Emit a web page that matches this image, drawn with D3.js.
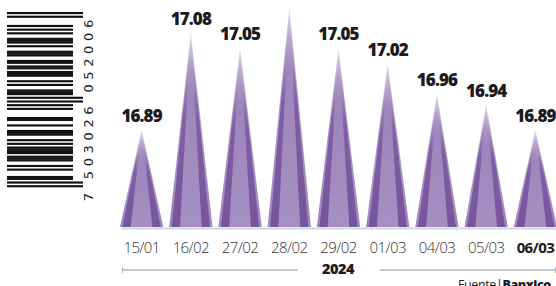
<!DOCTYPE html>
<html>
<head>
<meta charset="utf-8">
<script src="https://cdn.jsdelivr.net/npm/d3@7"></script>
<style>
  html, body { margin: 0; padding: 0; background: #fff; overflow: hidden; }
</style>
</head>
<body>
<div id="main"></div>
<script>
// data
const dates = ["15/01", "16/02", "27/02", "28/02", "29/02", "01/03", "04/03", "05/03", "06/03"];
const rates = [16.89, 17.08, 17.05, 17.13, 17.05, 17.02, 16.96, 16.94, 16.89];
const shownLabels = ["16.89", "17.08", "17.05", "", "17.05", "17.02", "16.96", "16.94", "16.89"];
const yearLabel = "2024";
const barcodeDigits = "7503026052006";

onload = () => {
    const W = 556, H = 286;
    let svg = d3.select("#main").append("svg").attr("width", W).attr("height", H);
    let defs = svg.append("defs");

    // fade to white toward the peak
    function fadeGrad(id, color) {
        let g = defs.append("linearGradient").attr("id", id)
            .attr("x1", 0).attr("y1", 0).attr("x2", 0).attr("y2", 1);
        g.append("stop").attr("offset", "0%").attr("stop-color", color).attr("stop-opacity", 0.05);
        g.append("stop").attr("offset", "45%").attr("stop-color", color).attr("stop-opacity", 0.85);
        g.append("stop").attr("offset", "100%").attr("stop-color", color).attr("stop-opacity", 1);
    }
    fadeGrad("gOuter", "#9f86bd");
    fadeGrad("gDark", "#77559d");
    fadeGrad("gLight", "#a68fc2");

    let x = d3.scaleBand().domain(dates).range([117, 560]).paddingInner(0.12).paddingOuter(0.06);
    let y = d3.scaleLinear().domain([16.70, 17.13]).range([227, 6]);

    // baseline
    svg.append("line").attr("x1", 122).attr("x2", W).attr("y1", 228.5).attr("y2", 228.5)
        .attr("stroke", "#cdd7de").attr("stroke-width", 2);

    // cones
    let cones = svg.selectAll(".cone").data(dates).enter().append("g").classed("cone", true);
    const layers = [[1, "url(#gOuter)"], [0.88, "url(#gDark)"], [0.5, "url(#gLight)"]];
    layers.forEach(([k, fill]) => {
        cones.append("path")
            .attr("fill", fill)
            .attr("d", (d, i) => {
                let cx = x(d) + x.bandwidth() / 2;
                let hw = x.bandwidth() / 2 * k;
                let top = y(rates[i]);
                return `M${cx - hw},${y(16.70)}L${cx},${top}L${cx + hw},${y(16.70)}Z`;
            });
    });

    // value labels
    svg.selectAll(".val").data(dates).enter().append("text").classed("val", true)
        .attr("x", d => x(d) + x.bandwidth() / 2)
        .attr("y", (d, i) => y(rates[i]) - 7)
        .attr("text-anchor", "middle")
        .style("font-family", "'Open Sans', sans-serif")
        .style("font-weight", 800)
        .style("font-size", "17px")
        .style("letter-spacing", "-0.9px")
        .style("fill", "#1c1a1d")
        .text((d, i) => shownLabels[i]);

    // date axis
    let axis = d3.axisBottom(x).tickSize(0).tickPadding(0);
    let ax = svg.append("g").attr("transform", "translate(0,242)").call(axis);
    ax.select(".domain").remove();
    ax.selectAll("text")
        .attr("dy", "0.71em")
        .style("font-family", "'Open Sans', sans-serif")
        .style("font-weight", (d, i) => i === dates.length - 1 ? 700 : 300)
        .style("font-size", "15px")
        .style("letter-spacing", "-0.6px")
        .style("fill", (d, i) => i === dates.length - 1 ? "#1c1a1d" : "#333");

    // year bracket
    const lineCol = "#a9b8c2";
    svg.append("line").attr("x1", 122).attr("x2", 298).attr("y1", 270).attr("y2", 270)
        .attr("stroke", lineCol).attr("stroke-width", 1.5);
    svg.append("line").attr("x1", 122.5).attr("x2", 122.5).attr("y1", 267).attr("y2", 273)
        .attr("stroke", lineCol).attr("stroke-width", 1);
    svg.append("line").attr("x1", 380).attr("x2", 555).attr("y1", 270).attr("y2", 270)
        .attr("stroke", lineCol).attr("stroke-width", 1.5);
    svg.append("line").attr("x1", 555.5).attr("x2", 555.5).attr("y1", 267).attr("y2", 273)
        .attr("stroke", lineCol).attr("stroke-width", 1);
    svg.append("text").attr("x", 338).attr("y", 274).attr("text-anchor", "middle")
        .style("font-family", "'Open Sans', sans-serif").style("font-weight", 800)
        .style("font-size", "14.5px").style("letter-spacing", "-0.5px").style("fill", "#1c1a1d")
        .text(yearLabel);

    // source
    let src = svg.append("text").attr("x", 458).attr("y", 289)
        .style("font-family", "'Open Sans', sans-serif").style("font-size", "12.5px")
        .style("letter-spacing", "-0.4px").style("fill", "#1c1a1d");
    src.append("tspan").style("font-weight", 400).text("Fuente");
    src.append("tspan").style("font-weight", 700).style("fill", "#7a579f").text("|");
    src.append("tspan").style("font-weight", 800).text("Banxico");

    // barcode (EAN-13), drawn bottom-to-top
    const L = ["0001101","0011001","0010011","0111101","0100011","0110001","0101111","0111011","0110111","0001011"];
    const G = ["0100111","0110011","0011011","0100001","0011101","0111001","0000101","0010001","0001001","0010111"];
    const R = ["1110010","1100110","1101100","1000010","1011100","1001110","1010000","1000100","1001000","1110100"];
    const parity = ["LLLLLL","LLGLGG","LLGGLG","LLGGGL","LGLLGG","LGGLLG","LGGGLL","LGLGLG","LGLGGL","LGGLGL"];
    let dg = barcodeDigits.split("").map(Number);
    let bits = [], guard = [];
    const push = (s, g) => s.split("").forEach(b => { bits.push(b === "1"); guard.push(g); });
    push("101", true);
    for (let i = 1; i <= 6; i++) push(parity[dg[0]][i - 1] === "L" ? L[dg[i]] : G[dg[i]], false);
    push("01010", true);
    for (let i = 7; i <= 12; i++) push(R[dg[i]], false);
    push("101", true);

    let by = d3.scaleLinear().domain([0, bits.length]).range([187, 12]);
    let mods = bits.map((b, i) => ({ b, g: guard[i], i })).filter(m => m.b);
    svg.selectAll(".bar").data(mods).enter().append("rect").classed("bar", true)
        .attr("x", 7)
        .attr("y", m => by(m.i + 1))
        .attr("width", m => m.g ? 76 : 66)
        .attr("height", m => by(m.i) - by(m.i + 1) + 0.3)
        .attr("fill", "#111");

    const digitStyle = t => t.style("font-family", "'DejaVu Sans', sans-serif").style("font-size", "13px")
        .style("fill", "#222").attr("text-anchor", "middle");
    const putDigit = (ch, pos) => {
        let cy = by(pos);
        svg.append("text").attr("transform", `translate(93,${cy}) rotate(-90)`)
            .call(digitStyle).text(ch);
    };
    putDigit(dg[0], -5.5);
    for (let i = 1; i <= 6; i++) putDigit(dg[i], 3 + (i - 1) * 7 + 3.5);
    for (let i = 7; i <= 12; i++) putDigit(dg[i], 50 + (i - 7) * 7 + 3.5);
};
</script>
</body>
</html>
